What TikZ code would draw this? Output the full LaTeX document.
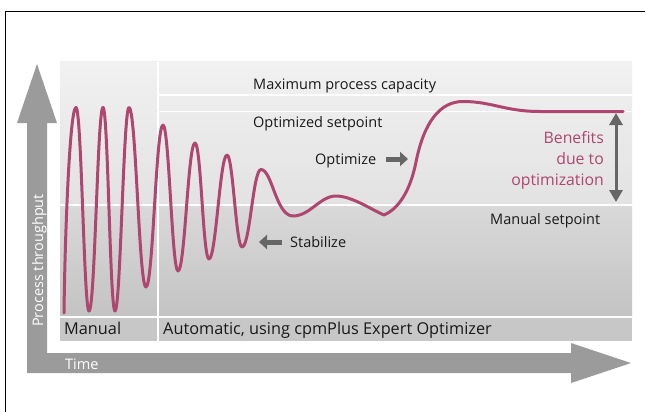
\documentclass[tikz,border=0pt]{standalone}
\usepackage{fontspec}
\setmainfont{Open Sans}
\usetikzlibrary{arrows.meta}
\definecolor{curvecol}{RGB}{174,70,112}
\definecolor{axisgray}{RGB}{155,155,155}
\definecolor{arrgray}{RGB}{102,102,102}
\definecolor{txtcol}{RGB}{25,25,25}
\definecolor{panelA}{RGB}{241,241,241}
\definecolor{panelB}{RGB}{226,226,226}
\definecolor{panelC}{RGB}{217,217,217}
\definecolor{panelD}{RGB}{195,195,195}
\definecolor{panelE}{RGB}{199,199,199}
\tikzset{
  lbl/.style={inner sep=0pt, text=txtcol, font=\fontsize{14.5}{17}\selectfont},
  striplbl/.style={inner sep=0pt, text=txtcol, font=\fontsize{16.3}{19}\selectfont},
  axislbl/.style={inner sep=0pt, text=white, font=\fontsize{14.5}{17}\selectfont},
  benefit/.style={inner sep=0pt, text=curvecol, font=\fontsize{15.8}{19}\selectfont},
  sepline/.style={white, line width=1.2pt},
  curve/.style={curvecol, line width=3pt, line join=round, line cap=round},
  hint/.style={arrgray, line width=5pt, -{Triangle[length=8pt,width=14pt]}},
  span/.style={arrgray, line width=3pt, {Triangle[length=12pt,width=13pt]}-{Triangle[length=12pt,width=13pt]}}
}
\begin{document}
\begin{tikzpicture}[x=1pt,y=-1pt]
\useasboundingbox (0,0) rectangle (645,412);
\fill[white] (0,0) rectangle (645,412);

% outer frame (only top and left edges show)
\draw[black, line width=1pt] (5,412) -- (5,12) -- (645,12);

% background panel
\shade[top color=panelA, bottom color=panelB] (60,62) rectangle (632,205);
\shade[top color=panelC, bottom color=panelD] (60,205) rectangle (632,317);
\fill[panelE] (60,317) rectangle (632,341);

% separators
\draw[sepline] (158,95) -- (632,95);
\draw[sepline] (158,111.5) -- (632,111.5);
\draw[sepline] (60,205) -- (632,205);
\draw[sepline] (60,317) -- (632,317);
\draw[sepline] (158,62) -- (158,341);

% axes
\fill[axisgray] (27,373) -- (27,123) -- (17,123) -- (37,64) -- (57,123) -- (47,123)
  -- (47,353) -- (571,353) -- (571,343) -- (631,363) -- (571,383) -- (571,373) -- cycle;
\node[axislbl, anchor=base west, rotate=90] (ylab) at (43,327) {Process throughput};
\node[axislbl, anchor=base west] (xlab) at (65,369) {Time};

% process curve
\draw[curve] (64,313)
  .. controls (65,230) and (70,107.5) .. (76,107.5)
  .. controls (81.5,107.5) and (84,311) .. (89,311)
  .. controls (95,311) and (97.5,107.5) .. (103,107.5)
  .. controls (108,107.5) and (110,311) .. (115,311)
  .. controls (120.5,311) and (123.5,107.5) .. (129,107.5)
  .. controls (136,107.5) and (139,287) .. (146,287)
  .. controls (153,287) and (156,125) .. (163,125)
  .. controls (169,125) and (172,271) .. (178,271)
  .. controls (185,271) and (188,143) .. (195,143)
  .. controls (201,143) and (203,259) .. (209,259)
  .. controls (216,259) and (220,155) .. (227,155)
  .. controls (233,155) and (236,247) .. (242,247)
  .. controls (250,247) and (253,169.5) .. (261,169.5)
  .. controls (272,169.5) and (276,216) .. (293,216)
  .. controls (310,216) and (320,196) .. (336,196)
  .. controls (352,196) and (372,210) .. (384,215)
  .. controls (398,209) and (410,192) .. (416,162)
  .. controls (424,122) and (440,101.5) .. (463,101.5)
  .. controls (492,101.5) and (505,111.5) .. (540,111.5)
  -- (623,111.5);

% labels
\node[lbl, anchor=base west] (maxcap) at (253,89) {Maximum process capacity};
\node[lbl, anchor=base west] (optset) at (253,127) {Optimized setpoint};
\node[lbl, anchor=base west] (optim) at (315,164) {Optimize};
\node[lbl, anchor=base west] (stab) at (290,247) {Stabilize};
\node[lbl, anchor=base west] (manset) at (490,224) {Manual setpoint};
\node[striplbl, anchor=base west] (manual) at (64,334) {Manual};
\node[striplbl, anchor=base west] (auto) at (163,334) {Automatic, using cpmPlus Expert Optimizer};
\node[benefit, anchor=base east] (ben1) at (604,143) {Benefits};
\node[benefit, anchor=base east] (ben2) at (604,164) {due to};
\node[benefit, anchor=base east] (ben3) at (604,185) {optimization};

% hint arrows
\coordinate (optA) at (386,159);
\coordinate (optB) at (408,159);
\coordinate (stabA) at (282,242);
\coordinate (stabB) at (259,242);
\coordinate (benTop) at (616,113);
\coordinate (benBot) at (616,202);
\draw[hint] (optA) -- (optB);
\draw[hint] (stabA) -- (stabB);
\draw[span] (benTop) -- (benBot);
\end{tikzpicture}
\end{document}
